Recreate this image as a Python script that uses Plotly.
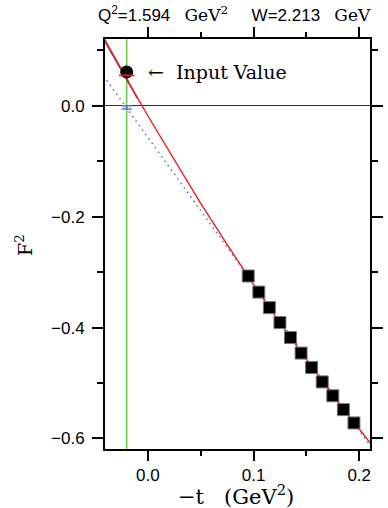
import plotly.graph_objects as go

# ---- data ----
t_data = [0.095, 0.105, 0.115, 0.125, 0.135, 0.145, 0.155, 0.165, 0.175, 0.185, 0.195]
F2_data = [-0.307, -0.336, -0.364, -0.391, -0.418, -0.446, -0.472, -0.498, -0.523, -0.548, -0.572]

t_input = [-0.02]
F2_input = [0.061]
F2_input_fit = [0.0547]

t_blue_pt = [-0.02]
F2_blue_pt = [-0.003]
F2_blue_err = [0.003]

t_red = [-0.045, -0.03, -0.02, -0.01, 0.0, 0.025, 0.05, 0.075, 0.1, 0.125, 0.15, 0.175, 0.2, 0.215]
F2_red = [0.134, 0.082, 0.0485, 0.015, -0.018, -0.098, -0.176, -0.250, -0.3225, -0.392, -0.458, -0.522, -0.583, -0.619]

t_black = [-0.045, -0.03, -0.02, -0.01]
F2_black = [0.130, 0.079, 0.046, 0.013]

t_blue = [-0.045, 0.215]
F2_blue = [0.062, -0.625]

t_green = -0.02

NB = "\u00a0"
SERIF = "DejaVu Serif"
title_text = ("Q<sup>2</sup>=1.594" + NB * 3 +
              f"<span style='font-family:{SERIF}'>GeV<sup>2</sup></span>" + NB * 5 +
              "W=2.213" + NB * 3 + f"<span style='font-family:{SERIF}'>GeV</span>")
x_title = "\u2212t" + NB * 3 + "(GeV<sup>2</sup>)"
y_title = "F<sup>2</sup>"
note_text = "\u2190" + NB * 2 + "Input" + NB + "Value"

fig = go.Figure()

fig.add_trace(go.Scatter(x=t_blue, y=F2_blue, mode="lines",
                         line=dict(color="#5070cc", width=1.5, dash="1.5px,4px"),
                         showlegend=False, hoverinfo="skip"))
fig.add_trace(go.Scatter(x=t_black, y=F2_black, mode="lines",
                         line=dict(color="#222222", width=0.9),
                         showlegend=False, hoverinfo="skip"))
fig.add_trace(go.Scatter(x=t_red, y=F2_red, mode="lines",
                         line=dict(color="#ee1c25", width=1.4),
                         showlegend=False, hoverinfo="skip"))
fig.add_trace(go.Scatter(x=t_data, y=F2_data, mode="markers",
                         marker=dict(symbol="square", size=12, color="black",
                                     line=dict(color="#777777", width=1)),
                         showlegend=False))
fig.add_trace(go.Scatter(x=t_input, y=F2_input, mode="markers",
                         marker=dict(symbol="circle", size=13, color="black"),
                         showlegend=False))
fig.add_trace(go.Scatter(x=t_input, y=F2_input_fit, mode="markers",
                         marker=dict(symbol="line-ew", size=11,
                                     line=dict(color="#ee1c25", width=1.8)),
                         showlegend=False))
fig.add_trace(go.Scatter(x=t_blue_pt, y=F2_blue_pt, mode="markers",
                         marker=dict(size=1, color="#5070cc"),
                         error_y=dict(type="data", array=F2_blue_err, visible=True,
                                      color="#5070cc", thickness=1.5, width=5),
                         showlegend=False))

fig.add_shape(type="line", xref="x", yref="paper", x0=t_green, x1=t_green, y0=0, y1=1,
              line=dict(color="#6cc84a", width=1.5), layer="below")

axis_font = dict(family="Liberation Sans, Arial, sans-serif", size=17, color="black")

fig.update_layout(
    width=388, height=508,
    margin=dict(l=105, r=5, t=39, b=59),
    paper_bgcolor="white", plot_bgcolor="white",
    xaxis=dict(range=[-0.0405, 0.2102], tick0=0, dtick=0.1, tickformat=".1f",
               ticks="outside", ticklen=10, tickwidth=1.6, tickcolor="black",
               showline=True, linecolor="black", linewidth=2, mirror="allticks",
               showgrid=False, zeroline=False, tickfont=axis_font,
               minor=dict(dtick=0.05, tick0=0, ticks="outside", ticklen=5,
                          tickwidth=1.6, tickcolor="black", showgrid=False)),
    yaxis=dict(range=[-0.619, 0.1204], tick0=0, dtick=0.2, tickformat=".1f",
               ticks="outside", ticklen=11, tickwidth=1.6, tickcolor="black",
               showline=True, linecolor="black", linewidth=2, mirror="allticks",
               showgrid=False, zeroline=True, zerolinecolor="#333333", zerolinewidth=1.4,
               tickfont=axis_font, ticklabelstandoff=4,
               minor=dict(dtick=0.1, tick0=0, ticks="outside", ticklen=6,
                          tickwidth=1.6, tickcolor="black", showgrid=False)),
    annotations=[
        dict(text=title_text, xref="paper", yref="paper", x=0.49, y=1.06,
             xanchor="center", yanchor="middle", showarrow=False,
             font=dict(family="Liberation Sans, Arial, sans-serif", size=17, color="black")),
        dict(text=x_title, xref="paper", yref="paper", x=0.496, y=-0.113,
             xanchor="center", yanchor="middle", showarrow=False,
             font=dict(family=SERIF + ", serif", size=21, color="black")),
        dict(text=y_title, xref="paper", yref="paper", x=-0.305, y=0.498,
             xanchor="center", yanchor="middle", showarrow=False, textangle=-90,
             font=dict(family=SERIF + ", serif", size=19, color="black")),
        dict(text=note_text, xref="x", yref="y", x=-0.0018, y=0.0614,
             xanchor="left", yanchor="middle", showarrow=False,
             font=dict(family=SERIF + ", serif", size=19, color="black")),
    ],
)

fig.write_html("out.html")
